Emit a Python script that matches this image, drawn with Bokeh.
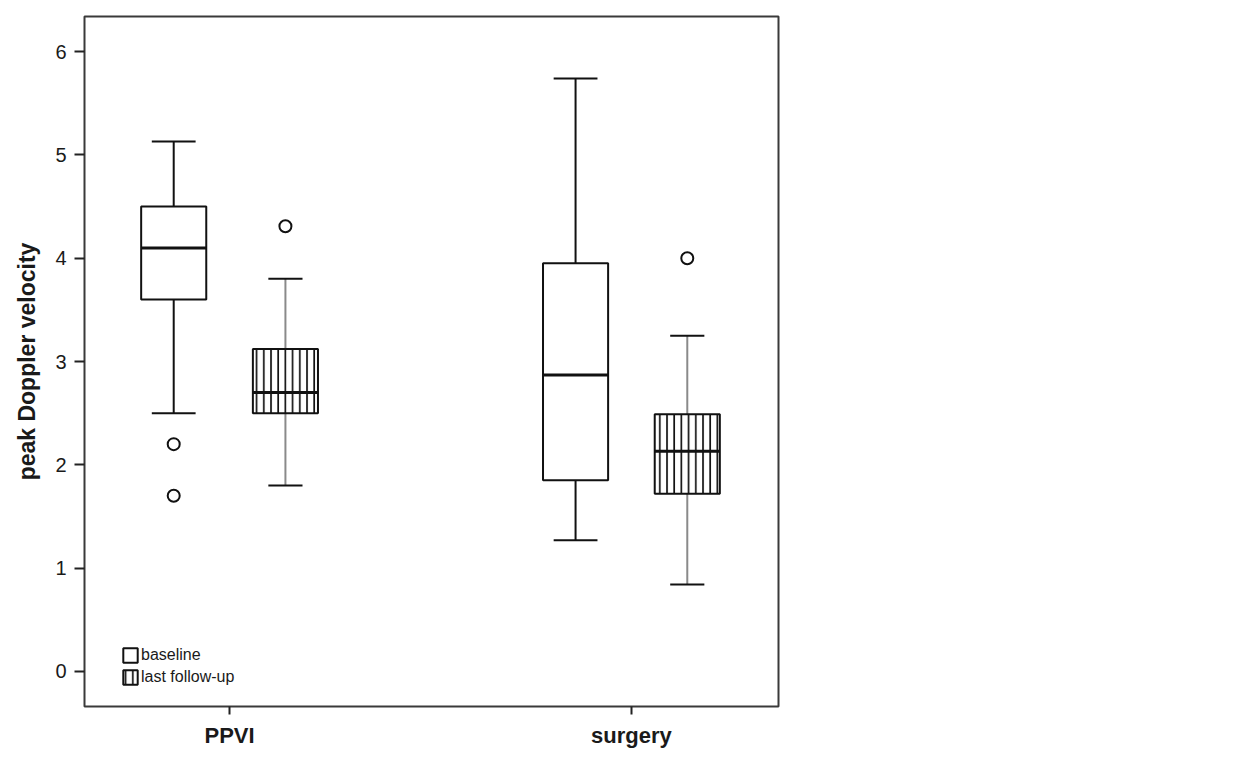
from bokeh.plotting import figure
from bokeh.models import ColumnDataSource, Range1d, FixedTicker, Legend, LegendItem
from bokeh.embed import file_html
from bokeh.resources import INLINE

# ---- data ----
groups = ["PPVI", "surgery"]
series = ["baseline", "last follow-up"]
box_group = ["PPVI", "PPVI", "surgery", "surgery"]
box_series = ["baseline", "last follow-up", "baseline", "last follow-up"]
whisker_low = [2.50, 1.80, 1.27, 0.84]
q1 = [3.60, 2.50, 1.85, 1.72]
median = [4.10, 2.70, 2.87, 2.13]
q3 = [4.50, 3.12, 3.95, 2.49]
whisker_high = [5.13, 3.80, 5.74, 3.25]
outlier_group = ["PPVI", "PPVI", "PPVI", "surgery"]
outlier_series = ["baseline", "baseline", "last follow-up", "last follow-up"]
outlier_values = [2.20, 1.70, 4.31, 4.00]
y_ticks = [0, 1, 2, 3, 4, 5, 6]

# ---- layout ----
group_pos = {g: i + 1 for i, g in enumerate(groups)}
series_off = {"baseline": -0.139, "last follow-up": 0.139}
box_w = 0.162
cap_w = {"baseline": 0.109, "last follow-up": 0.085}
stem_col = {"baseline": "#111111", "last follow-up": "#8a8a8a"}
FONT = "Liberation Sans"

xs = [group_pos[g] + series_off[s] for g, s in zip(box_group, box_series)]

p = figure(frame_width=694, frame_height=690, output_backend="svg",
           toolbar_location=None, x_range=Range1d(0.639, 2.366),
           y_range=Range1d(-0.34, 6.34),
           min_border_left=84, min_border_top=16, min_border_bottom=48,
           min_border_right=30)
p.xgrid.visible = False
p.ygrid.visible = False
p.outline_line_color = "#3a3a3a"
p.outline_line_width = 2
p.background_fill_color = "white"
p.border_fill_color = "white"

# whiskers
for i, s in enumerate(box_series):
    x = xs[i]
    src = ColumnDataSource(dict(x=[x, x], y0=[q3[i], q1[i]], y1=[whisker_high[i], whisker_low[i]]))
    p.segment(x0="x", x1="x", y0="y0", y1="y1", source=src,
              line_color=stem_col[s], line_width=2)
    cw = cap_w[s]
    csrc = ColumnDataSource(dict(x0=[x - cw / 2] * 2, x1=[x + cw / 2] * 2,
                                 y=[whisker_high[i], whisker_low[i]]))
    p.segment(x0="x0", x1="x1", y0="y", y1="y", source=csrc,
              line_color="#111111", line_width=2)

# boxes
renderers = {}
for s in series:
    idx = [i for i, ss in enumerate(box_series) if ss == s]
    src = ColumnDataSource(dict(x=[xs[i] for i in idx], top=[q3[i] for i in idx],
                                bottom=[q1[i] for i in idx]))
    kw = {}
    if s == "last follow-up":
        kw = dict(hatch_pattern="vertical_line", hatch_scale=7.2,
                  hatch_weight=1.7, hatch_color="#111111")
    r = p.vbar(x="x", top="top", bottom="bottom", width=box_w, source=src,
               fill_color="white", line_color="#111111", line_width=2, **kw)
    renderers[s] = r

# medians
msrc = ColumnDataSource(dict(x0=[x - box_w / 2 for x in xs], x1=[x + box_w / 2 for x in xs],
                             y=median))
p.segment(x0="x0", x1="x1", y0="y", y1="y", source=msrc,
          line_color="#111111", line_width=3)

# outliers
osrc = ColumnDataSource(dict(x=[group_pos[g] + series_off[s] for g, s in zip(outlier_group, outlier_series)],
                             y=outlier_values))
p.scatter(x="x", y="y", source=osrc, size=12, marker="circle",
          fill_color="white", line_color="#111111", line_width=2)

# axes
p.yaxis.ticker = FixedTicker(ticks=y_ticks)
p.xaxis.ticker = FixedTicker(ticks=[group_pos[g] for g in groups])
p.xaxis.major_label_overrides = {group_pos[g]: g for g in groups}
for ax in (p.xaxis[0], p.yaxis[0]):
    ax.axis_line_color = None
    ax.major_tick_out = 10
    ax.major_tick_in = 0
    ax.minor_tick_line_color = None
    ax.major_tick_line_color = "#222222"
    ax.major_tick_line_width = 2
    ax.major_label_text_font = FONT
    ax.major_label_text_color = "#1a1a1a"
p.yaxis.major_label_text_font_size = "20px"
p.yaxis.major_label_standoff = 8
p.yaxis.axis_label = "peak Doppler velocity"
p.yaxis.axis_label_text_font = FONT
p.yaxis.axis_label_text_font_style = "bold"
p.yaxis.axis_label_text_font_size = "23px"
p.yaxis.axis_label_text_color = "#1a1a1a"
p.yaxis.axis_label_standoff = 12
p.xaxis.major_tick_out = 8
p.xaxis.major_label_text_font_size = "22px"
p.xaxis.major_label_text_font_style = "bold"
p.xaxis.major_label_standoff = 8

legend = Legend(items=[LegendItem(label=s, renderers=[renderers[s]]) for s in series],
                location=(37, 20), padding=0, spacing=4, margin=0,
                glyph_width=18, glyph_height=18, label_standoff=2,
                label_text_font=FONT, label_text_font_size="16px",
                label_text_color="#1a1a1a", label_height=18,
                border_line_color=None, background_fill_alpha=0)
p.add_layout(legend)

open("out.html", "w").write(file_html(p, INLINE))
